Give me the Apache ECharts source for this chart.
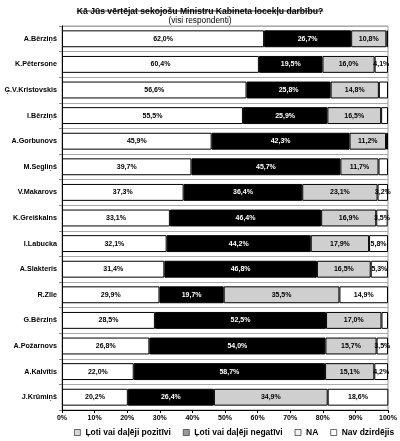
<!DOCTYPE html>
<html>
<head>
<meta charset="utf-8">
<script src="https://cdn.jsdelivr.net/npm/echarts@6/dist/echarts.min.js"></script>
<style>html,body{margin:0;padding:0;background:#fff;}#c{width:400px;height:441px;}</style>
</head>
<body>
<div id="c"></div>
<script>
const categories = ['A.Bērziņš','K.Pētersone','Ģ.V.Kristovskis','I.Bērziņš','A.Gorbunovs','M.Segliņš','V.Makarovs','K.Greiškalns','I.Labucka','A.Slakteris','R.Zīle','G.Bērziņš','A.Požarnovs','A.Kalvītis','J.Krūmiņš'];
const positive = [62.0,60.4,56.6,55.5,45.9,39.7,37.3,33.1,32.1,31.4,29.9,28.5,26.8,22.0,20.2];
const negative = [26.7,19.5,25.8,25.9,42.3,45.7,36.4,46.4,44.2,46.8,19.7,52.5,54.0,58.7,26.4];
const na       = [10.8,16.0,14.8,16.5,11.2,11.7,23.1,16.9,17.9,16.5,35.5,17.0,15.7,15.1,34.9];
const nav      = [0.5,4.1,2.8,2.1,0.6,2.9,3.2,3.5,5.8,5.3,14.9,2.0,3.5,4.2,18.6];
const seriesNames = ['Ļoti vai daļēji pozitīvi','Ļoti vai daļēji negatīvi','NA','Nav dzirdējis'];
const titleText = 'Kā Jūs vērtējat sekojošu Ministru Kabineta locekļu darbību?';
const subText = '(visi respondenti)';

const FONT = '"Liberation Sans", Arial, sans-serif';
const fmt = v => v.toFixed(1).replace('.', ',') + '%';

const c = document.createElement('canvas').getContext('2d');
c.font = 'bold 8.6px "Liberation Sans"';
const tw = c.measureText(titleText).width;

const chart = echarts.init(document.getElementById('c'), null, {renderer: 'canvas'});

function mk(name, data, color, textColor, minShow) {
  return {
    name: name, type: 'bar', stack: 'all', data: data,
    barCategoryGap: '34%',
    itemStyle: {color: color, borderColor: '#000', borderWidth: 1},
    label: {
      show: true, position: 'inside', color: textColor,
      fontFamily: FONT, fontWeight: 'bold', fontSize: 7,
      formatter: p => (p.value >= minShow ? fmt(p.value) : '')
    },
    emphasis: {disabled: true}
  };
}

chart.setOption({
  animation: false,
  backgroundColor: '#fff',
  title: [
    {text: titleText, left: 'center', top: 2,
     textStyle: {fontFamily: FONT, fontWeight: 'bold', fontSize: 8.6, color: '#000'}},
    {text: subText, left: 'center', top: 12,
     textStyle: {fontFamily: FONT, fontWeight: 'normal', fontSize: 8.3, color: '#000'}}
  ],
  graphic: [{
    type: 'line', shape: {x1: 200 - tw / 2, y1: 11, x2: 200 + tw / 2, y2: 11},
    style: {stroke: '#000', lineWidth: 0.8}
  }],
  grid: {left: 62, right: 12, top: 26, bottom: 31, show: true, borderColor: '#999', borderWidth: 1},
  xAxis: {
    type: 'value', min: 0, max: 100, interval: 10,
    axisLine: {show: true, lineStyle: {color: '#000'}},
    axisTick: {show: true, length: 3, lineStyle: {color: '#000'}},
    splitLine: {show: false},
    axisLabel: {formatter: '{value}%', color: '#000', fontFamily: FONT, fontWeight: 'bold', fontSize: 7, margin: 5}
  },
  yAxis: {
    type: 'category', data: categories, inverse: true,
    axisLine: {show: true, lineStyle: {color: '#000'}},
    axisTick: {show: true, length: 3, lineStyle: {color: '#888'}},
    splitLine: {show: true, lineStyle: {color: '#aaa', width: 1}},
    axisLabel: {color: '#000', fontFamily: FONT, fontWeight: 'bold', fontSize: 7.2, margin: 5}
  },
  legend: {
    top: 428, left: 74, padding: 0, itemWidth: 6, itemHeight: 6, itemGap: 12,
    icon: 'rect',
    textStyle: {fontFamily: FONT, fontWeight: 'bold', fontSize: 8.5, color: '#000'},
    data: [
      {name: seriesNames[0], itemStyle: {color: '#d8d8d8', borderColor: '#444', borderWidth: 0.8}},
      {name: seriesNames[1], itemStyle: {color: '#999', borderColor: '#444', borderWidth: 0.8}},
      {name: seriesNames[2], itemStyle: {color: '#f2f2f2', borderColor: '#444', borderWidth: 0.8}},
      {name: seriesNames[3], itemStyle: {color: '#fff', borderColor: '#444', borderWidth: 0.8}}
    ]
  },
  series: [
    mk(seriesNames[0], positive, '#fff', '#000', 0),
    mk(seriesNames[1], negative, '#000', '#fff', 0),
    mk(seriesNames[2], na, '#cfcfcf', '#000', 0),
    mk(seriesNames[3], nav, '#fff', '#000', 3)
  ]
});
</script>
</body>
</html>
